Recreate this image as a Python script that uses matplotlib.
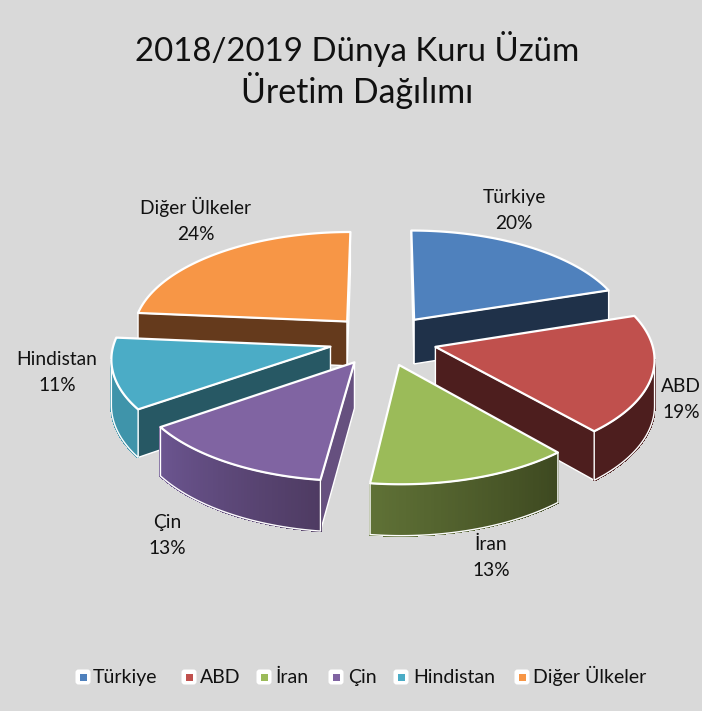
import matplotlib
matplotlib.use('Agg')
import matplotlib.pyplot as plt
from matplotlib.colors import to_rgb
from matplotlib.patches import FancyBboxPatch, Polygon, Rectangle
import numpy as np

plt.rcParams['font.family'] = ['Lato', 'DejaVu Sans']

categories = ['Türkiye', 'ABD', 'İran', 'Çin', 'Hindistan', 'Diğer Ülkeler']
values = [20, 18.6, 13.4, 13.3, 11.1, 23.6]

top_colors = ['#4F81BD', '#C0504D', '#9BBB59', '#8064A2', '#4BACC6', '#F79646']
first_wall = ['#7F9DC4', '#4D1E1E', '#3F4A20', '#66507F', '#275864', '#653A1C']
last_wall = ['#1F3149', '#4D1E1E', '#3F4A20', '#66507F', '#275864', '#E08A40']
# arc wall colour at the start and the end of each slice (clockwise)
arc_start = ['#1F3149', '#4D1E1E', '#3D4820', '#4E3B62', '#3F94AA', '#653A1C']
arc_end = ['#1F3149', '#4D1E1E', '#5F7136', '#6B5590', '#3F94AA', '#653A1C']
draw_order = [5, 0, 4, 1, 3, 2]

label_x = [514, 681, 491, 167, 57, 196]
label_y = [203, 392, 550, 528, 365, 214]
legend_box_x = [83, 189, 264, 336, 401, 522]
legend_text_x = [93, 200, 275, 348, 413, 533]

# projection of the tilted pie, in pixels
cx, cy = 383, 340
rx, ry = 216, 102
persp = 0.1
explode = 0.25
depth = 45


def project(x, y):
    s = 1 + persp * y
    return cx + rx * x / s, cy - ry * y / s


def wall(p0, p1, y0, y1):
    d0 = depth / (1 + persp * y0)
    d1 = depth / (1 + persp * y1)
    return [p0, p1, (p1[0], p1[1] + d1), (p0[0], p0[1] + d0)]


def mix(c0, c1, t):
    return tuple((1 - t) * a + t * b for a, b in zip(to_rgb(c0), to_rgb(c1)))


def draw_slice(ax, i, a0, a1):
    mid = (a0 + a1) / 2
    ox, oy = explode * np.sin(mid), explode * np.cos(mid)
    ang = np.linspace(a0, a1, 60)
    wx = np.concatenate([[ox], ox + np.sin(ang)])
    wy = np.concatenate([[oy], oy + np.cos(ang)])
    pts = [project(x, y) for x, y in zip(wx, wy)]

    # radial wall going out from the centre
    if pts[1][0] < pts[0][0]:
        ax.add_patch(Polygon(wall(pts[0], pts[1], wy[0], wy[1]), fc=first_wall[i], ec='white', lw=1.0))
    # radial wall coming back to the centre
    if pts[0][0] < pts[-1][0]:
        ax.add_patch(Polygon(wall(pts[-1], pts[0], wy[-1], wy[0]), fc=last_wall[i], ec='white', lw=1.0))

    # arc wall, only where it faces the viewer
    vis = [k for k in range(1, len(pts) - 1) if pts[k + 1][0] < pts[k][0]]
    if vis:
        for k in vis:
            col = mix(arc_start[i], arc_end[i], (k - vis[0]) / max(len(vis) - 1, 1))
            ax.add_patch(Polygon(wall(pts[k], pts[k + 1], wy[k], wy[k + 1]), fc=col, ec=col, lw=1.0, antialiased=False))
        upper = [pts[k] for k in vis] + [pts[vis[-1] + 1]]
        lower = [(pts[k][0], pts[k][1] + depth / (1 + persp * wy[k])) for k in vis + [vis[-1] + 1]]
        ax.add_patch(Polygon(upper + lower[::-1], fill=False, ec='white', lw=1.0))

    ax.add_patch(Polygon(pts, fc=top_colors[i], ec='white', lw=1.6, joinstyle='round'))


def main():
    fig = plt.figure(figsize=(7.02, 7.11), dpi=100, facecolor='#D9D9D9')
    ax = fig.add_axes([0, 0, 1, 1])
    ax.set_xlim(0, 702)
    ax.set_ylim(711, 0)
    ax.set_axis_off()

    fractions = np.array(values) / sum(values)
    edges = np.concatenate([[0], np.cumsum(fractions)]) * 2 * np.pi

    for i in draw_order:
        draw_slice(ax, i, edges[i], edges[i + 1])

    ax.text(357, 61, '2018/2019 Dünya Kuru Üzüm', fontsize=23.8, ha='center', va='baseline', color='#111111')
    ax.text(357, 103, 'Üretim Dağılımı', fontsize=24.4, ha='center', va='baseline', color='#111111')

    for i, name in enumerate(categories):
        ax.text(label_x[i], label_y[i], name, fontsize=13.8, ha='center', va='baseline', color='#111111')
        ax.text(label_x[i], label_y[i] + 26, f'{values[i]:.0f}%', fontsize=13.8, ha='center', va='baseline', color='#111111')

        bx = legend_box_x[i]
        ax.add_patch(FancyBboxPatch((bx - 5, 672), 10, 10, boxstyle='round,pad=2.5,rounding_size=3', fc='white', ec='none'))
        ax.add_patch(Rectangle((bx - 3.5, 673.5), 7, 7, fc=top_colors[i], ec='none'))
        ax.text(legend_text_x[i], 683, name, fontsize=14, ha='left', va='baseline', color='#111111')

    fig.savefig('out.png', dpi=100, facecolor=fig.get_facecolor())


main()
